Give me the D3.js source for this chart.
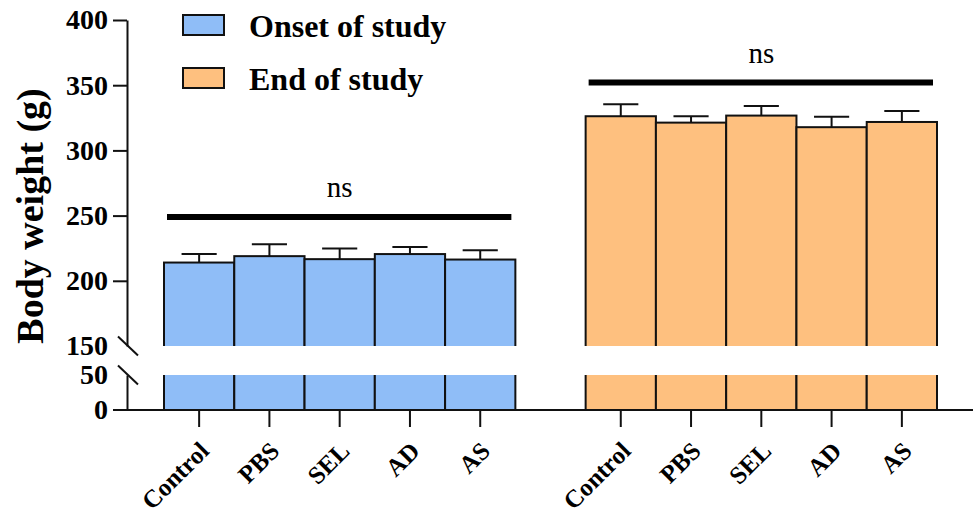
<!DOCTYPE html>
<html lang="en">
<head>
  <meta charset="UTF-8">
  <title>Body weight</title>
  <script src="https://d3js.org/d3.v7.min.js"></script>
  <style>
    body { margin: 0; background: white; }
    svg { display: block; }
    text { font-family: "Liberation Serif", "Times New Roman", serif; fill: #000; }
  </style>
</head>
<body>
<svg width="973" height="512"></svg>
<script>
const groups = ["Onset of study", "End of study"];
const categories = ["Control", "PBS", "SEL", "AD", "AS"];
const onsetMeans = [214.0, 218.9, 216.6, 220.5, 216.3];
const onsetErr = [6.5, 9.2, 8.1, 5.5, 7.2];
const endMeans = [326.2, 321.3, 326.7, 317.8, 321.8];
const endErr = [9.2, 4.9, 7.4, 8.1, 8.5];
const sigLevels = [249, 352];
const sigLabels = ["ns", "ns"];
const upperTicks = [150, 200, 250, 300, 350, 400];
const lowerTicks = [0, 50];
const colors = ["#8fbdf7", "#fec07f"];

const svg = d3.select("svg");

// x: two groups, gap of one bar between them
const x0 = d3.scaleBand().domain(groups).range([164, 937]).paddingInner(1 / 6).paddingOuter(0);
const x1 = d3.scaleBand().domain(categories).range([0, x0.bandwidth()]).padding(0);

// y: broken axis, two segments
const yTop = d3.scaleLinear().domain([150, 400]).range([346, 20]);
const yBot = d3.scaleLinear().domain([0, 50]).range([410, 375]);

const rows = [];
groups.forEach((g, gi) => {
  const means = gi === 0 ? onsetMeans : endMeans;
  const errs = gi === 0 ? onsetErr : endErr;
  categories.forEach((c, i) => rows.push({ group: g, gi, cat: c, v: means[i], e: errs[i] }));
});
const bx = d => x0(d.group) + x1(d.cat);

// bars
svg.append("g").selectAll("rect")
  .data(rows)
  .join("rect")
  .attr("x", bx)
  .attr("y", d => yTop(d.v))
  .attr("width", x1.bandwidth())
  .attr("height", d => yBot(0) - yTop(d.v))
  .attr("fill", d => colors[d.gi])
  .attr("stroke", "#111")
  .attr("stroke-width", 2);

// error bars
const eb = svg.append("g").attr("stroke", "#111").attr("stroke-width", 2);
eb.selectAll("line.v")
  .data(rows)
  .join("line")
  .attr("x1", d => bx(d) + x1.bandwidth() / 2)
  .attr("x2", d => bx(d) + x1.bandwidth() / 2)
  .attr("y1", d => yTop(d.v))
  .attr("y2", d => yTop(d.v + d.e));
eb.selectAll("line.cap")
  .data(rows)
  .join("line")
  .attr("x1", d => bx(d) + x1.bandwidth() / 4)
  .attr("x2", d => bx(d) + x1.bandwidth() * 3 / 4)
  .attr("y1", d => yTop(d.v + d.e))
  .attr("y2", d => yTop(d.v + d.e));

// the break band
svg.append("rect")
  .attr("x", 140)
  .attr("y", yTop(150))
  .attr("width", 833)
  .attr("height", yBot(50) - yTop(150))
  .attr("fill", "white");

// y axes
const yAxisTop = svg.append("g")
  .attr("transform", "translate(127,0)")
  .call(d3.axisLeft(yTop).tickValues(upperTicks).tickSize(14).tickSizeOuter(0).tickPadding(5));
const yAxisBot = svg.append("g")
  .attr("transform", "translate(127,0)")
  .call(d3.axisLeft(yBot).tickValues(lowerTicks).tickSize(14).tickSizeOuter(0).tickPadding(5));

[yAxisTop, yAxisBot].forEach(ax => {
  ax.select(".domain").attr("stroke", "#111").attr("stroke-width", 2);
  ax.selectAll(".tick line").attr("stroke", "#111").attr("stroke-width", 2)
    .filter(d => d === 150 || d === 50 || d === 0).remove();
  ax.selectAll(".tick text")
    .style("font-family", "'Liberation Serif', serif")
    .style("font-weight", "bold")
    .style("font-size", "28px");
});

// break slashes
svg.append("g").selectAll("line")
  .data([yTop(150), yBot(50)])
  .join("line")
  .attr("x1", 118).attr("x2", 138)
  .attr("y1", d => d - 9.5).attr("y2", d => d + 9.5)
  .attr("stroke", "#111").attr("stroke-width", 2);

// x axis
svg.append("line")
  .attr("x1", 113).attr("x2", 973)
  .attr("y1", yBot(0)).attr("y2", yBot(0))
  .attr("stroke", "#111").attr("stroke-width", 2);

const xt = svg.append("g");
xt.selectAll("line")
  .data(rows)
  .join("line")
  .attr("x1", d => bx(d) + x1.bandwidth() / 2)
  .attr("x2", d => bx(d) + x1.bandwidth() / 2)
  .attr("y1", yBot(0))
  .attr("y2", yBot(0) + 17)
  .attr("stroke", "#111").attr("stroke-width", 2);
xt.selectAll("text")
  .data(rows)
  .join("text")
  .attr("transform", d => `translate(${bx(d) + x1.bandwidth() / 2 - 1},${yBot(0) + 30}) rotate(-45)`)
  .attr("text-anchor", "end")
  .attr("dy", "0.7em")
  .style("font-weight", "bold")
  .style("font-size", "25px")
  .text(d => d.cat);

// y label
svg.append("text")
  .attr("transform", "translate(43,216) rotate(-90)")
  .attr("text-anchor", "middle")
  .style("font-weight", "bold")
  .style("font-size", "38px")
  .text("Body weight (g)");

// significance
groups.forEach((g, gi) => {
  svg.append("line")
    .attr("x1", x0(g) + 3)
    .attr("x2", x0(g) + x0.bandwidth() - 4)
    .attr("y1", yTop(sigLevels[gi]))
    .attr("y2", yTop(sigLevels[gi]))
    .attr("stroke", "#000").attr("stroke-width", 6);
  svg.append("text")
    .attr("x", x0(g) + x0.bandwidth() / 2)
    .attr("y", yTop(sigLevels[gi]) - 20)
    .attr("text-anchor", "middle")
    .style("font-size", "29px")
    .text(sigLabels[gi]);
});

// legend
const lg = svg.append("g").selectAll("g")
  .data(groups)
  .join("g")
  .attr("transform", (d, i) => `translate(183,${15 + i * 53})`);
lg.append("rect")
  .attr("width", 41).attr("height", 20)
  .attr("fill", (d, i) => colors[i])
  .attr("stroke", "#111").attr("stroke-width", 2);
lg.append("text")
  .attr("x", 66).attr("y", 22)
  .style("font-weight", "bold")
  .style("font-size", "32px")
  .text(d => d);
</script>
</body>
</html>
